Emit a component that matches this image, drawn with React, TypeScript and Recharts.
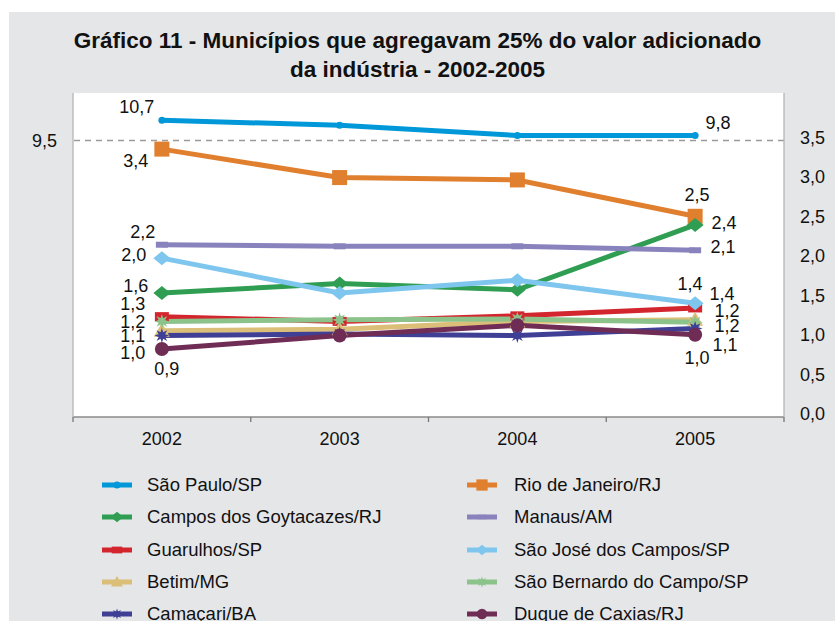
import React from "react";
import { LineChart, Line, XAxis, YAxis, CartesianGrid, ReferenceLine, LabelList } from "recharts";

const years = [2002, 2003, 2004, 2005];

// São Paulo is read on the left (broken) scale, the others on the right scale
const saoPaulo = [10.7, 10.4, 9.8, 9.8];
const rioDeJaneiro = [3.39, 3.03, 3.0, 2.54];
const camposGoytacazes = [1.57, 1.69, 1.61, 2.43];
const manaus = [2.18, 2.16, 2.16, 2.11];
const guarulhos = [1.27, 1.21, 1.28, 1.38];
const saoJoseCampos = [2.01, 1.57, 1.73, 1.44];
const betim = [1.09, 1.11, 1.21, 1.23];
const saoBernardo = [1.21, 1.23, 1.24, 1.2];
const camacari = [1.03, 1.05, 1.03, 1.12];
const duqueCaxias = [0.86, 1.03, 1.16, 1.04];

const rightTicks = [0, 0.5, 1, 1.5, 2, 2.5, 3, 3.5];
const leftTicks = [9.5];
const yearTicks = [2001.5, 2002, 2002.5, 2003, 2003.5, 2004, 2004.5, 2005, 2005.5];

const FONT = "'Liberation Sans', Arial, Helvetica, sans-serif";

type Series = {
  key: string;
  name: string;
  values: number[];
  color: string;
  shape: string;
  axis: "left" | "right";
  first: [number, number];
  last: [number, number];
};

const series: Series[] = [
  { key: "sp", name: "São Paulo/SP", values: saoPaulo, color: "#0098d8", shape: "dot", axis: "left", first: [-25, -13], last: [23, -13] },
  { key: "rj", name: "Rio de Janeiro/RJ", values: rioDeJaneiro, color: "#e07f2e", shape: "square", axis: "right", first: [-26, 12], last: [2, -22] },
  { key: "cg", name: "Campos dos Goytacazes/RJ", values: camposGoytacazes, color: "#2f9e52", shape: "diamond", axis: "right", first: [-26, -7], last: [29, -2] },
  { key: "ma", name: "Manaus/AM", values: manaus, color: "#8983bd", shape: "bar", axis: "right", first: [-19, -13], last: [28, -4] },
  { key: "gu", name: "Guarulhos/SP", values: guarulhos, color: "#d3252d", shape: "dash", axis: "right", first: [-29, -13], last: [27, -14] },
  { key: "sj", name: "São José dos Campos/SP", values: saoJoseCampos, color: "#7fc6ef", shape: "diamond", axis: "right", first: [-28, -3], last: [-5, -20] },
  { key: "be", name: "Betim/MG", values: betim, color: "#dbbf78", shape: "triangle", axis: "right", first: [-29, 5], last: [32, 6] },
  { key: "sb", name: "São Bernardo do Campo/SP", values: saoBernardo, color: "#8cc38b", shape: "star", axis: "right", first: [-29, 0], last: [32, -11] },
  { key: "ca", name: "Camaçari/BA", values: camacari, color: "#3e3f95", shape: "star", axis: "right", first: [-29, 17], last: [30, 16] },
  { key: "dc", name: "Duque de Caxias/RJ", values: duqueCaxias, color: "#6f2c55", shape: "circle", axis: "right", first: [5, 20], last: [2, 23] },
];

const rows = years.map((year, i) => {
  const row: Record<string, number> = { year };
  series.forEach((s) => {
    row[s.key] = s.values[i];
  });
  return row;
});

const fmt = (v: number) => v.toFixed(1).replace(".", ",");

function Marker({ shape, cx, cy, color, scale = 1 }: { shape: string; cx: number; cy: number; color: string; scale?: number }) {
  const k = scale;
  switch (shape) {
    case "dot":
      return <circle cx={cx} cy={cy} r={3.5 * k} fill={color} />;
    case "square":
      return <rect x={cx - 7.5 * k} y={cy - 7.5 * k} width={15 * k} height={15 * k} fill={color} />;
    case "diamond":
      return (
        <polygon
          points={`${cx - 8.5 * k},${cy} ${cx},${cy - 7 * k} ${cx + 8.5 * k},${cy} ${cx},${cy + 7 * k}`}
          fill={color}
        />
      );
    case "bar":
      return <rect x={cx - 6 * k} y={cy - 3 * k} width={12 * k} height={6 * k} fill={color} />;
    case "dash":
      return <rect x={cx - 7 * k} y={cy - 4.5 * k} width={14 * k} height={9 * k} fill={color} />;
    case "triangle":
      return (
        <polygon points={`${cx - 8 * k},${cy + 6 * k} ${cx},${cy - 8 * k} ${cx + 8 * k},${cy + 6 * k}`} fill={color} />
      );
    case "star": {
      const pts: string[] = [];
      for (let i = 0; i < 16; i++) {
        const r = (i % 2 === 0 ? 7.5 : 3.5) * k;
        const a = (Math.PI * i) / 8;
        pts.push(`${cx + r * Math.cos(a)},${cy + r * Math.sin(a)}`);
      }
      return <polygon points={pts.join(" ")} fill={color} />;
    }
    case "circle":
      return <circle cx={cx} cy={cy} r={7 * k} fill={color} />;
    default:
      return null;
  }
}

const makeDot = (s: Series) => (props: any) => {
  const { cx, cy, index } = props;
  if (cx == null || cy == null) return <g key={`${s.key}-${index}`} />;
  return (
    <g key={`${s.key}-${index}`}>
      <Marker shape={s.shape} cx={cx} cy={cy} color={s.color} />
    </g>
  );
};

const makeLabel = (s: Series) => (props: any) => {
  const { index, value } = props;
  const x = props.x ?? props.viewBox?.x;
  const y = props.y ?? props.viewBox?.y;
  const off = index === 0 ? s.first : index === years.length - 1 ? s.last : null;
  if (!off || x == null || y == null) return null;
  return (
    <text
      key={`${s.key}-lbl-${index}`}
      x={x + off[0]}
      y={y + off[1]}
      dy="0.35em"
      textAnchor="middle"
      fontSize={18}
      fontFamily={FONT}
      fill="#111"
    >
      {fmt(value)}
    </text>
  );
};

const YearTick = (props: any) => {
  const { x, y, payload } = props;
  const v = payload.value as number;
  if (!Number.isInteger(v)) {
    return <line x1={x} y1={y} x2={x} y2={y + 5} stroke="#777" strokeWidth={1.3} />;
  }
  return (
    <text x={x} y={y + 22} dy="0.35em" textAnchor="middle" fontSize={18} fontFamily={FONT} fill="#111">
      {v}
    </text>
  );
};

const RightTick = (props: any) => {
  const { x, y, payload } = props;
  return (
    <text x={x} y={y - 3} dy="0.35em" textAnchor="start" fontSize={18} fontFamily={FONT} fill="#111">
      {fmt(payload.value)}
    </text>
  );
};

const LeftTick = (props: any) => {
  const { x, y, payload } = props;
  return (
    <text x={x} y={y} dy="0.35em" textAnchor="end" fontSize={18} fontFamily={FONT} fill="#111">
      {fmt(payload.value)}
    </text>
  );
};

function LegendIcon({ s }: { s: Series }) {
  return (
    <svg width={34} height={20} style={{ display: "block" }}>
      <line x1={2} y1={10} x2={32} y2={10} stroke={s.color} strokeWidth={5} />
      <Marker shape={s.shape} cx={17} cy={10} color={s.color} scale={s.shape === "dot" ? 1 : 0.75} />
    </svg>
  );
}

export default function App() {
  return (
    <div style={{ position: "absolute", left: 0, top: 0, width: 835, height: 621, background: "#fff", overflow: "hidden" }}>
      <div style={{ position: "absolute", left: 9, top: 12, width: 826, height: 609, background: "#e5e6e8" }} />
      <div
        style={{
          position: "absolute",
          left: 0,
          top: 26,
          width: 835,
          textAlign: "center",
          fontFamily: FONT,
          fontWeight: "bold",
          fontSize: 22.5,
          lineHeight: "29px",
          color: "#111",
        }}
      >
        Gráfico 11 - Municípios que agregavam 25% do valor adicionado
        <br />
        da indústria - 2002-2005
      </div>
      <div style={{ position: "absolute", left: 0, top: 0 }}>
        <LineChart width={835} height={460} data={rows} margin={{ top: 93, right: 0, bottom: 0, left: 13 }}>
          <CartesianGrid fill="#ffffff" horizontal={false} vertical={false} />
          <XAxis
            dataKey="year"
            type="number"
            domain={[2001.5, 2005.5]}
            ticks={yearTicks}
            interval={0}
            height={43}
            tickSize={0}
            tickMargin={0}
            tickLine={false}
            axisLine={{ stroke: "#8a8a8a", strokeWidth: 1.5 }}
            tick={<YearTick />}
          />
          <XAxis
            xAxisId="top"
            dataKey="year"
            type="number"
            orientation="top"
            domain={[2001.5, 2005.5]}
            height={0}
            tick={false}
            tickLine={false}
            axisLine={{ stroke: "#b5b5b5", strokeWidth: 1.3 }}
          />
          <YAxis
            yAxisId="left"
            orientation="left"
            type="number"
            width={60}
            domain={[-6.76, 12.3]}
            allowDataOverflow
            ticks={leftTicks}
            interval={0}
            tickSize={0}
            tickMargin={16}
            tickLine={false}
            axisLine={{ stroke: "#b5b5b5", strokeWidth: 1.3 }}
            tick={<LeftTick />}
          />
          <YAxis
            yAxisId="right"
            orientation="right"
            type="number"
            width={51}
            domain={[0, 4.1]}
            allowDataOverflow
            ticks={rightTicks}
            interval={0}
            tickSize={0}
            tickMargin={16}
            tickLine={false}
            axisLine={{ stroke: "#b5b5b5", strokeWidth: 1.3 }}
            tick={<RightTick />}
          />
          <ReferenceLine yAxisId="right" y={3.5} stroke="#9a9a9a" strokeWidth={1.5} strokeDasharray="6 5" />
          {series.map((s) => (
            <Line
              key={s.key}
              yAxisId={s.axis}
              dataKey={s.key}
              name={s.name}
              type="linear"
              stroke={s.color}
              strokeWidth={5}
              dot={makeDot(s)}
              activeDot={false}
              isAnimationActive={false}
            >
              <LabelList dataKey={s.key} content={makeLabel(s)} />
            </Line>
          ))}
        </LineChart>
      </div>
      {series.map((s, i) => {
        const col = i % 2;
        const row = Math.floor(i / 2);
        return (
          <div
            key={s.key}
            style={{
              position: "absolute",
              left: col === 0 ? 100 : 465,
              top: 475 + row * 32.3,
              height: 20,
              display: "flex",
              alignItems: "center",
              fontFamily: FONT,
              fontSize: 18.5,
              color: "#111",
              whiteSpace: "nowrap",
            }}
          >
            <LegendIcon s={s} />
            <span style={{ marginLeft: col === 0 ? 13 : 15 }}>{s.name}</span>
          </div>
        );
      })}
    </div>
  );
}
